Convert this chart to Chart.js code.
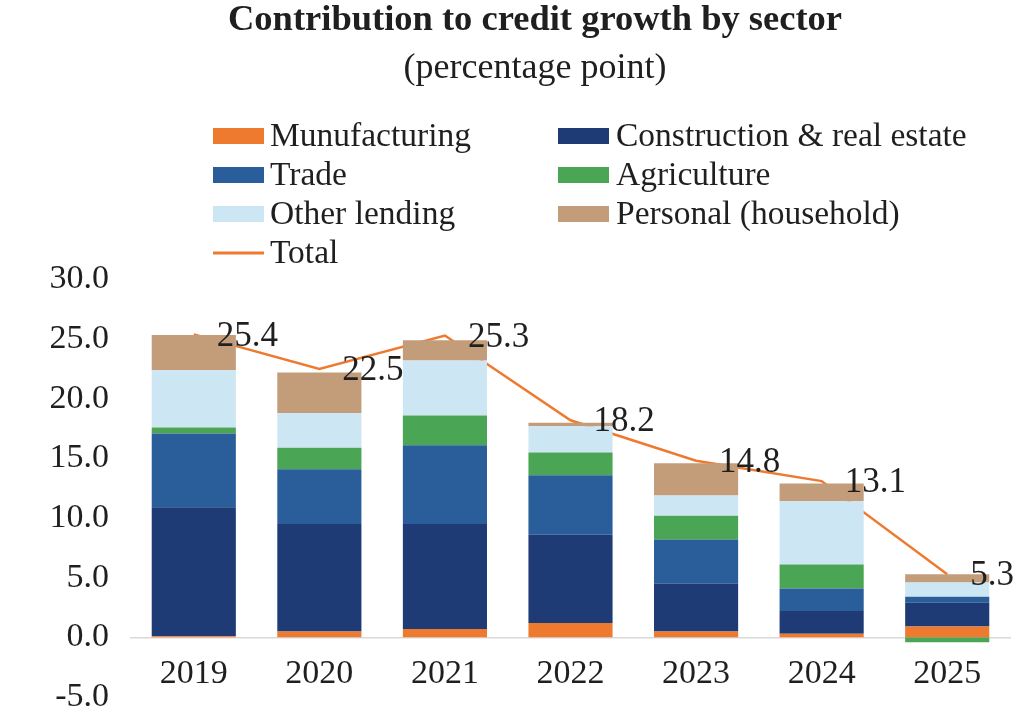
<!DOCTYPE html>
<html>
<head>
<meta charset="utf-8">
<script src="https://cdn.jsdelivr.net/npm/chart.js@4.4.1/dist/chart.umd.min.js"></script>
<style>
  html, body { margin: 0; padding: 0; background: #fff; }
  #wrap { width: 1024px; height: 722px; position: relative; }
</style>
</head>
<body>
<div id="wrap"><canvas id="c" width="1024" height="722"></canvas></div>
<script>
const categories = ['2019', '2020', '2021', '2022', '2023', '2024', '2025'];
const manufacturing = [0.1, 0.5, 0.7, 1.2, 0.5, 0.3, 0.9];
const construction  = [10.8, 9.0, 8.8, 7.4, 4.0, 1.9, 2.0];
const trade         = [6.2, 4.6, 6.6, 5.0, 3.7, 1.9, 0.5];
const agriculture   = [0.5, 1.8, 2.5, 1.9, 2.0, 2.0, -0.4];
const otherLending  = [4.8, 2.9, 4.6, 2.2, 1.7, 5.3, 1.2];
const personal      = [2.95, 3.4, 1.7, 0.3, 2.7, 1.5, 0.7];
const total         = [25.4, 22.5, 25.3, 18.2, 14.8, 13.1, 5.3];
const yTicks = [-5, 0, 5, 10, 15, 20, 25, 30];

const FONT = "'Liberation Serif', 'DejaVu Serif', serif";
const TXT = '#1f1f1f';

// centre the title/subtitle over the same span as in the reference
const titleShift = {
  id: 'titleShift',
  afterLayout(chart) {
    chart.boxes.forEach(b => {
      if (b.options && b.options.text !== undefined && b.position === 'top') {
        b.left = 60;
        b.right = 1010;
      }
    });
  }
};

const legendPlugin = {
  id: 'customLegend',
  afterDraw(chart) {
    const ctx = chart.ctx;
    const ds = chart.data.datasets;
    const colX = [213, 558];
    const textX = [270, 616];
    const rowY = [136, 175, 214, 253];
    ctx.save();
    ctx.font = '33.5px ' + FONT;
    ctx.textBaseline = 'middle';
    ctx.textAlign = 'left';
    ds.forEach((d, i) => {
      const col = i % 2, row = Math.floor(i / 2);
      const x = colX[col], y = rowY[row];
      if (d.type === 'line') {
        ctx.strokeStyle = d.borderColor;
        ctx.lineWidth = 3;
        ctx.beginPath();
        ctx.moveTo(x, y);
        ctx.lineTo(x + 51, y);
        ctx.stroke();
      } else {
        ctx.fillStyle = d.backgroundColor;
        ctx.fillRect(x, y - 8, 51, 16);
      }
      ctx.fillStyle = TXT;
      ctx.fillText(d.label, textX[col], y + 1);
    });
    ctx.restore();
  }
};

const valueLabels = {
  id: 'valueLabels',
  afterDatasetsDraw(chart) {
    const ctx = chart.ctx;
    chart.data.datasets.forEach((d, i) => {
      if (d.type !== 'line') return;
      const meta = chart.getDatasetMeta(i);
      ctx.save();
      ctx.font = '35px ' + FONT;
      ctx.fillStyle = TXT;
      ctx.textAlign = 'left';
      ctx.textBaseline = 'middle';
      meta.data.forEach((pt, j) => {
        ctx.fillText(d.data[j].toFixed(1), pt.x + 23, pt.y + 2);
      });
      ctx.restore();
    });
  }
};

new Chart(document.getElementById('c'), {
  data: {
    labels: categories,
    datasets: [
      { type: 'bar', label: 'Munufacturing', data: manufacturing, backgroundColor: '#EE7A30' },
      { type: 'bar', label: 'Construction & real estate', data: construction, backgroundColor: '#1F3B76' },
      { type: 'bar', label: 'Trade', data: trade, backgroundColor: '#2A5E9B' },
      { type: 'bar', label: 'Agriculture', data: agriculture, backgroundColor: '#4AA654' },
      { type: 'bar', label: 'Other lending', data: otherLending, backgroundColor: '#CDE6F3' },
      { type: 'bar', label: 'Personal (household)', data: personal, backgroundColor: '#C39D7A' },
      { type: 'line', label: 'Total', data: total, borderColor: '#EE7A30', backgroundColor: '#EE7A30',
        borderWidth: 2.5, pointRadius: 0, tension: 0, stack: 'total' }
    ]
  },
  options: {
    responsive: false,
    animation: false,
    datasets: { bar: { categoryPercentage: 1.0, barPercentage: 0.67 } },
    layout: { padding: { left: 0, right: 14, top: 0, bottom: 25 } },
    plugins: {
      legend: { display: false },
      tooltip: { enabled: false },
      title: {
        display: true,
        text: 'Contribution to credit growth by sector',
        color: TXT,
        font: { family: FONT, size: 36.5, weight: 'bold', lineHeight: 1.0 },
        padding: { top: 2, bottom: 12 }
      },
      subtitle: {
        display: true,
        text: '(percentage point)',
        color: TXT,
        font: { family: FONT, size: 36, lineHeight: 1.0 },
        padding: { top: 0, bottom: 193 }
      }
    },
    scales: {
      x: {
        stacked: true,
        position: { y: 0 },
        afterFit(scale) { scale.height = 0; scale.paddingTop = 0; scale.paddingBottom = 0; },
        grid: { display: false, drawTicks: false },
        border: { display: true, color: '#d9d9d9', width: 1.5 },
        ticks: { color: TXT, font: { family: FONT, size: 34 }, padding: 16 }
      },
      y: {
        stacked: true,
        min: -5,
        max: 30,
        afterBuildTicks(scale) { scale.ticks = yTicks.map(v => ({ value: v })); },
        afterFit(scale) { scale.width = 131; scale.paddingBottom = 0; },
        grid: { display: false, drawTicks: false },
        border: { display: false },
        ticks: {
          color: TXT,
          font: { family: FONT, size: 34 },
          padding: 22,
          callback: v => Number(v).toFixed(1)
        }
      }
    }
  },
  plugins: [titleShift, legendPlugin, valueLabels]
});
</script>
</body>
</html>
